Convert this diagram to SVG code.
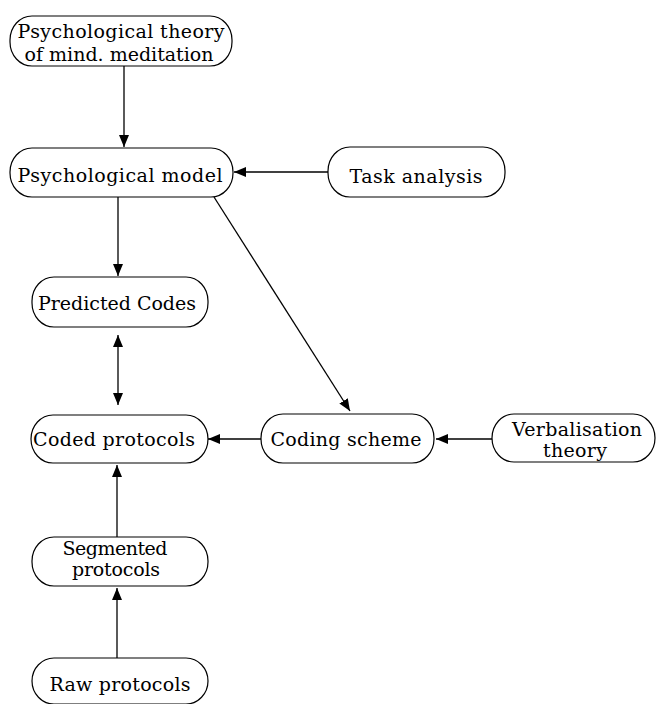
<svg xmlns="http://www.w3.org/2000/svg" width="656" height="704" viewBox="0 0 656 704">
<style>
.box{fill:#fff;stroke:#000;stroke-width:1.2}
.t{font-family:"DejaVu Serif","Liberation Serif",serif;font-size:19px;fill:#000;text-anchor:middle}
.c{stroke:#000;stroke-width:1.3;fill:none}
</style>
<defs>
<marker id="ah" markerUnits="userSpaceOnUse" markerWidth="14" markerHeight="12" refX="12" refY="5" orient="auto-start-reverse">
<path d="M0,0 L12,5 L0,10 z" fill="#000"/>
</marker>
</defs>
<rect width="656" height="704" fill="#fff"/>
<g id="connectors">
<line class="c" x1="124" y1="66" x2="124" y2="147" marker-end="url(#ah)"/>
<line class="c" x1="328" y1="172" x2="234" y2="172" marker-end="url(#ah)"/>
<line class="c" x1="118" y1="197" x2="118" y2="276" marker-end="url(#ah)"/>
<line class="c" x1="118" y1="335" x2="118" y2="405" marker-start="url(#ah)" marker-end="url(#ah)"/>
<line class="c" x1="214" y1="197" x2="350" y2="411" marker-end="url(#ah)"/>
<line class="c" x1="261" y1="439" x2="208" y2="439" marker-end="url(#ah)"/>
<line class="c" x1="492" y1="439" x2="436" y2="439" marker-end="url(#ah)"/>
<line class="c" x1="117" y1="537" x2="117" y2="465" marker-end="url(#ah)"/>
<line class="c" x1="117" y1="658" x2="117" y2="588" marker-end="url(#ah)"/>
</g>
<g id="n-theory">
<rect class="box" x="10" y="16" width="222" height="50" rx="22" ry="24"/>
<text class="t" x="121" y="38" textLength="207">Psychological theory</text>
<text class="t" x="119" y="61" textLength="189">of mind. meditation</text>
</g>
<g id="n-model">
<rect class="box" x="10" y="148" width="223" height="49" rx="22" ry="24"/>
<text class="t" x="120" y="182" textLength="205">Psychological  model</text>
</g>
<g id="n-task">
<rect class="box" x="328" y="147" width="177" height="50" rx="22" ry="24"/>
<text class="t" x="416" y="183" textLength="133">Task analysis</text>
</g>
<g id="n-predicted">
<rect class="box" x="32" y="277" width="176" height="50" rx="22" ry="24"/>
<text class="t" x="117" y="310" textLength="158">Predicted Codes</text>
</g>
<g id="n-coded">
<rect class="box" x="31" y="415" width="177" height="48" rx="22" ry="24"/>
<text class="t" x="114" y="446" textLength="162">Coded protocols</text>
</g>
<g id="n-scheme">
<rect class="box" x="261" y="414" width="173" height="49" rx="22" ry="24"/>
<text class="t" x="346" y="446" textLength="151">Coding scheme</text>
</g>
<g id="n-verbal">
<rect class="box" x="492" y="414" width="163" height="48" rx="22" ry="24"/>
<text class="t" x="577" y="436" textLength="130">Verbalisation</text>
<text class="t" x="575" y="457" textLength="64">theory</text>
</g>
<g id="n-segmented">
<rect class="box" x="32" y="537" width="176" height="49" rx="22" ry="24"/>
<text class="t" x="115" y="555" textLength="105">Segmented</text>
<text class="t" x="116" y="576" textLength="88">protocols</text>
</g>
<g id="n-raw">
<rect class="box" x="32" y="658" width="176" height="46" rx="22" ry="23"/>
<text class="t" x="120" y="691" textLength="141">Raw protocols</text>
</g>
</svg>
